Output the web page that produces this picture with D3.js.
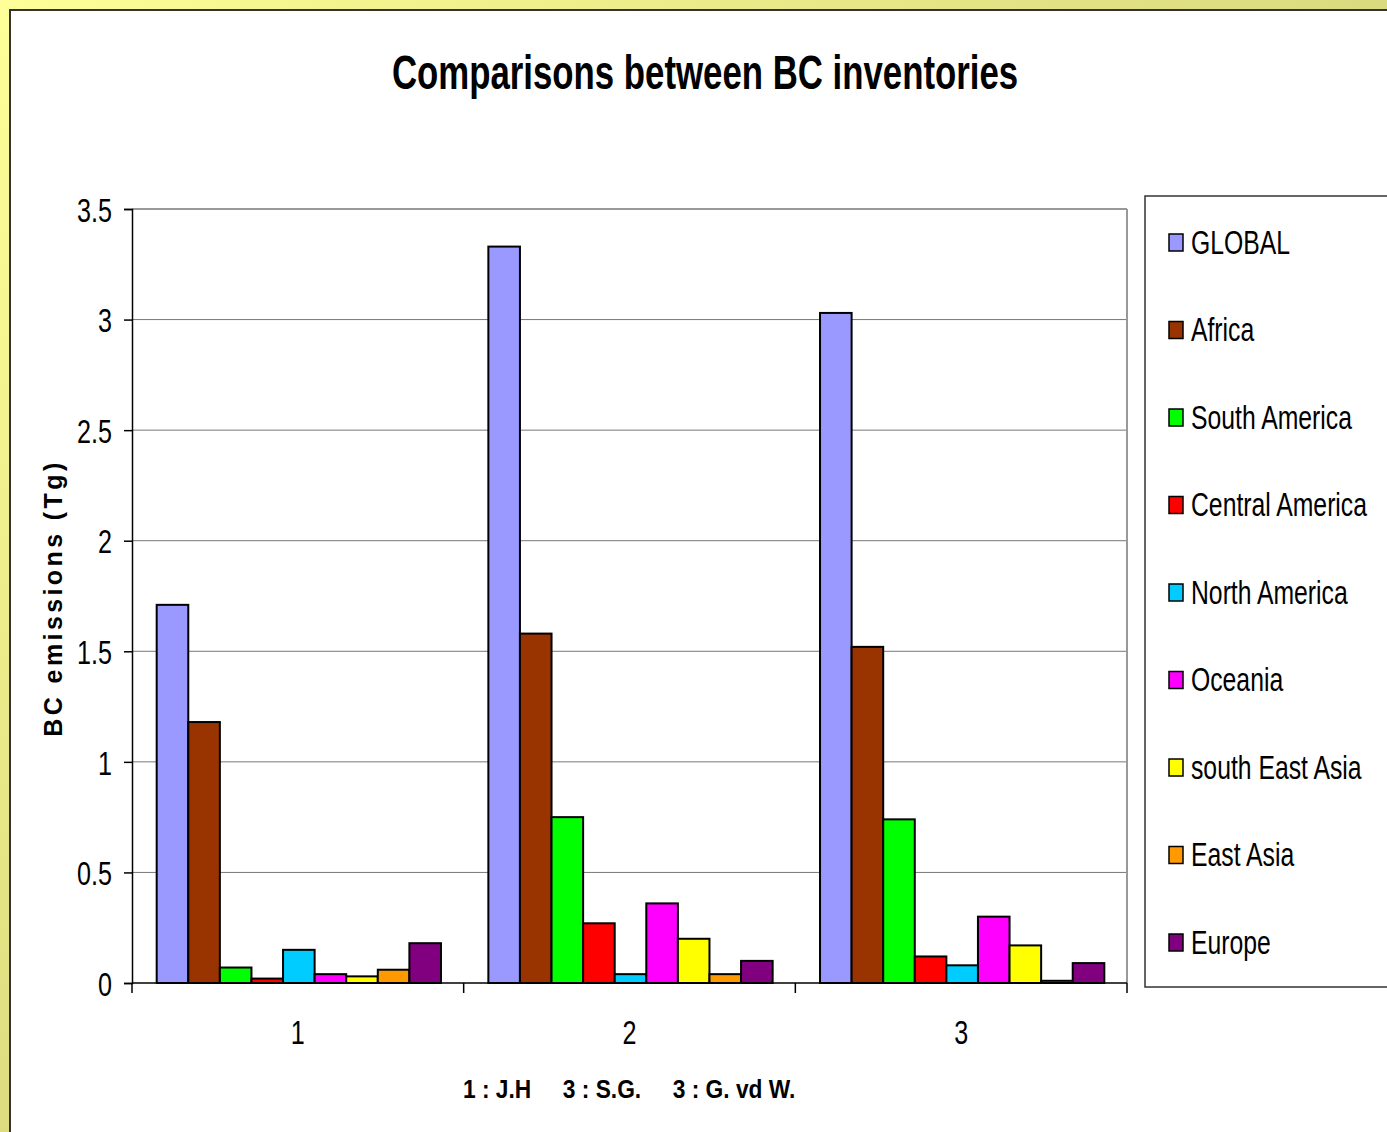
<!DOCTYPE html>
<html>
<head>
<meta charset="utf-8">
<script src="https://cdn.jsdelivr.net/npm/d3@7"></script>
<style>
  html, body { margin: 0; padding: 0; background: #fff; }
  svg { display: block; }
  text { font-family: "Liberation Sans", Arial, sans-serif; }
</style>
</head>
<body>
<svg id="chart" width="1387" height="1132"></svg>
<script>
// Inventories compared (x categories) and regions (series)
const inventories = ["1", "2", "3"];
const regions = ["GLOBAL", "Africa", "South America", "Central America", "North America",
                 "Oceania", "south East Asia", "East Asia", "Europe"];
const regionColors = ["#9999FF", "#993300", "#00FF00", "#FF0000", "#00CCFF",
                      "#FF00FF", "#FFFF00", "#FF9900", "#800080"];

// BC emissions (Tg) per region, one array per inventory
const inventory1 = [1.71, 1.18, 0.07, 0.02, 0.15, 0.04, 0.03, 0.06, 0.18];
const inventory2 = [3.33, 1.58, 0.75, 0.27, 0.04, 0.36, 0.20, 0.04, 0.10];
const inventory3 = [3.03, 1.52, 0.74, 0.12, 0.08, 0.30, 0.17, 0.01, 0.09];
const inventoryValues = [inventory1, inventory2, inventory3];

const yTicks = [0, 0.5, 1, 1.5, 2, 2.5, 3, 3.5];

const svg = d3.select("#chart");
const W = 1387, H = 1132;

// Condense text horizontally (narrow typeface look) by scaling about its anchor
function condense(sel, factor) {
  sel.each(function () {
    const x = +this.getAttribute("x") || 0;
    const y = +this.getAttribute("y") || 0;
    d3.select(this).attr("x", 0).attr("y", 0)
      .attr("transform", `translate(${x},${y}) scale(${factor},1)`);
  });
}

// Yellow slide background with a gradient
const defs = svg.append("defs");
const grad = defs.append("linearGradient").attr("id", "bgGrad")
  .attr("x1", "0").attr("y1", "0").attr("x2", "1").attr("y2", "0.15");
grad.append("stop").attr("offset", "0").attr("stop-color", "#FFFF99");
grad.append("stop").attr("offset", "0.25").attr("stop-color", "#F4F48F");
grad.append("stop").attr("offset", "1").attr("stop-color", "#D9D97F");
svg.append("rect").attr("width", W).attr("height", H).attr("fill", "url(#bgGrad)");
const gradL = defs.append("linearGradient").attr("id", "leftGrad")
  .attr("x1", "0").attr("y1", "0").attr("x2", "0").attr("y2", "1");
gradL.append("stop").attr("offset", "0").attr("stop-color", "#FFFF99");
gradL.append("stop").attr("offset", "1").attr("stop-color", "#DDDD80");
svg.append("rect").attr("x", 0).attr("y", 9).attr("width", 9).attr("height", H - 9)
  .attr("fill", "url(#leftGrad)");

// White chart panel
svg.append("rect").attr("x", 10).attr("y", 10).attr("width", W).attr("height", H)
  .attr("fill", "#fff").attr("stroke", "#333").attr("stroke-width", 2);

const plot = { left: 132, top: 209, right: 1127, bottom: 983 };

const x0 = d3.scaleBand().domain(inventories).range([plot.left, plot.right]).paddingInner(0).paddingOuter(0);
// Excel-style gap width of 150% split across both sides of each cluster
const sidePad = x0.bandwidth() * 0.75 / 10.5;
const x1 = d3.scaleBand().domain(regions).range([sidePad + 1, x0.bandwidth() - sidePad + 1]);
const y = d3.scaleLinear().domain([0, 3.5]).range([plot.bottom, plot.top]);

// Gridlines
svg.append("g").selectAll("line").data(yTicks.filter(d => d > 0)).join("line")
  .attr("x1", plot.left).attr("x2", plot.right)
  .attr("y1", d => y(d)).attr("y2", d => y(d))
  .attr("stroke", d => d === 3.5 ? "#999" : "#777").attr("stroke-width", d => d === 3.5 ? 2 : 1);
// Plot-area right border
svg.append("line").attr("x1", plot.right).attr("x2", plot.right)
  .attr("y1", plot.top).attr("y2", plot.bottom).attr("stroke", "#999").attr("stroke-width", 2);

// Bars
const groups = svg.append("g").selectAll("g").data(inventories).join("g")
  .attr("transform", d => `translate(${x0(d)},0)`);
groups.selectAll("rect")
  .data((d, i) => inventoryValues[i].map((v, j) => ({ region: regions[j], value: v, color: regionColors[j] })))
  .join("rect")
  .attr("x", d => x1(d.region))
  .attr("width", x1.bandwidth())
  .attr("y", d => y(d.value))
  .attr("height", d => y(0) - y(d.value))
  .attr("fill", d => d.color)
  .attr("stroke", "#000").attr("stroke-width", 2);

// Y axis
const yAxis = d3.axisLeft(y).tickValues(yTicks).tickSize(8).tickPadding(12)
  .tickFormat(d3.format(""));
const gy = svg.append("g").attr("transform", `translate(${plot.left},0)`).call(yAxis);
gy.select(".domain").attr("stroke", "#000").attr("stroke-width", 1.5);
gy.selectAll(".tick line").attr("stroke", "#000").attr("stroke-width", 1.5);
gy.selectAll(".tick text").attr("font-family", "'Liberation Sans', Arial, sans-serif")
  .attr("font-size", 34).attr("fill", "#000").attr("dy", "0.36em")
  .call(condense, 0.74);

// X axis
const gx = svg.append("g").attr("transform", `translate(0,${plot.bottom})`);
gx.append("line").attr("x1", plot.left).attr("x2", plot.right).attr("y1", 0).attr("y2", 0)
  .attr("stroke", "#000").attr("stroke-width", 1.5);
const boundaries = inventories.map(d => x0(d)).concat([plot.right]);
gx.selectAll("line.tk").data(boundaries).join("line").attr("class", "tk")
  .attr("x1", d => d).attr("x2", d => d).attr("y1", 0).attr("y2", 10)
  .attr("stroke", "#000").attr("stroke-width", 1.5);
gx.selectAll("text").data(inventories).join("text")
  .attr("x", d => x0(d) + x0.bandwidth() / 2).attr("y", 61)
  .attr("text-anchor", "middle").attr("font-size", 34).text(d => d)
  .call(condense, 0.74);

// Title
svg.append("text").attr("x", 705).attr("y", 89)
  .attr("text-anchor", "middle").attr("font-size", 49).attr("font-weight", "bold")
  .text("Comparisons between BC inventories")
  .call(condense, 0.71);

// Y-axis title
svg.append("text")
  .attr("transform", "translate(62,598) rotate(-90)")
  .attr("text-anchor", "middle")
  .attr("font-size", 25).attr("font-weight", "bold").attr("letter-spacing", 3.4)
  .text("BC emissions (Tg)");

// Footer note naming the inventories
svg.append("text").attr("x", 463).attr("y", 1098)
  .attr("font-size", 25).attr("font-weight", "bold").attr("xml:space", "preserve")
  .style("white-space", "pre")
  .text("1 : J.H     3 : S.G.     3 : G. vd W.")
  .call(condense, 0.91);

// Legend
const legend = svg.append("g");
legend.append("rect").attr("x", 1145).attr("y", 196).attr("width", 260).attr("height", 791)
  .attr("fill", "#fff").attr("stroke", "#333").attr("stroke-width", 1.5);
const ly = d3.scalePoint().domain(regions).range([242, 942]);
const items = legend.selectAll("g.item").data(regions).join("g").attr("class", "item")
  .attr("transform", d => `translate(1169,${ly(d)})`);
items.append("rect").attr("x", 0).attr("y", -8).attr("width", 14).attr("height", 17)
  .attr("fill", (d, i) => regionColors[i]).attr("stroke", "#000").attr("stroke-width", 1.5);
items.append("text").attr("x", 22).attr("y", 0).attr("dy", "0.36em")
  .attr("font-size", 33).text(d => d)
  .call(condense, 0.75);
</script>
</body>
</html>
